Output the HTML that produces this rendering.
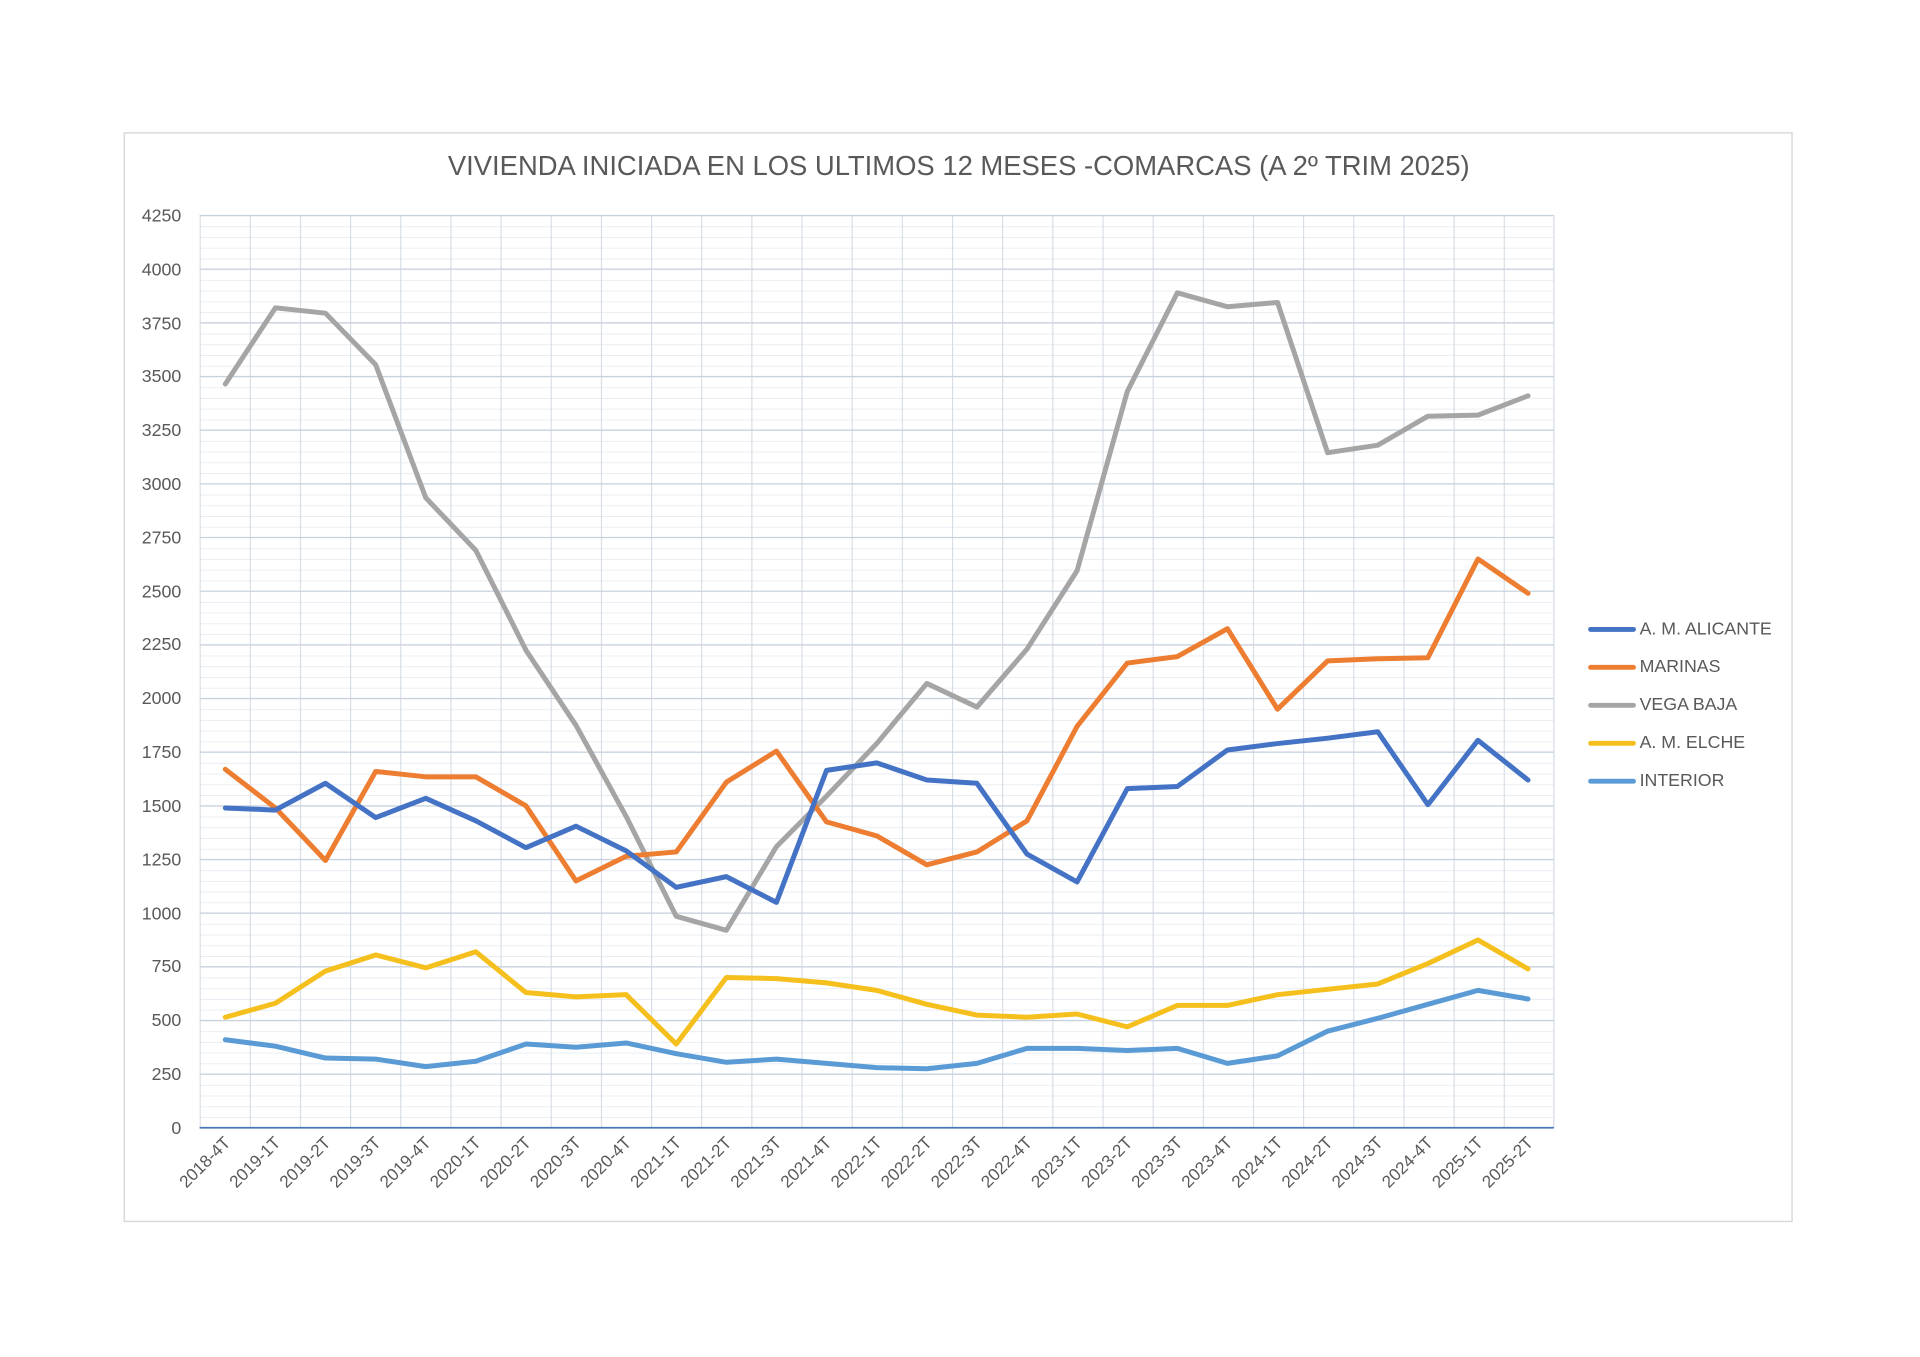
<!DOCTYPE html>
<html><head><meta charset="utf-8"><style>html,body{margin:0;padding:0;background:#fff}svg{display:block}</style></head>
<body>
<svg width="1920" height="1357" viewBox="0 0 1568 1108.2" xmlns="http://www.w3.org/2000/svg" font-family="'Liberation Sans', sans-serif">
<defs>
<pattern id="g" x="163" y="176" width="40.963" height="8.7647" patternUnits="userSpaceOnUse">
<line x1="0" y1="0.3" x2="40.963" y2="0.3" stroke="#e6ebf2" stroke-width="0.8"/>
<line x1="0.4" y1="0" x2="0.4" y2="8.7647" stroke="#d5dbe3" stroke-width="1"/>
</pattern>
</defs>
<rect x="0" y="0" width="1568" height="1108.2" fill="#fff"/>
<rect x="101.5" y="108.5" width="1362" height="889" fill="#fff" stroke="#d9d9d9" stroke-width="1.2"/>
<text x="783" y="143" text-anchor="middle" font-size="22.4" fill="#595959">VIVIENDA INICIADA EN LOS ULTIMOS 12 MESES -COMARCAS (A 2º TRIM 2025)</text>
<rect x="163" y="176" width="1106" height="745" fill="url(#g)"/>
<line x1="1269" y1="176" x2="1269" y2="921" stroke="#d5dbe3"/>
<g stroke="#c8d2de" stroke-width="1">
<line x1="163" x2="1269" y1="176" y2="176"/><line x1="163" x2="1269" y1="219.8" y2="219.8"/><line x1="163" x2="1269" y1="263.6" y2="263.6"/><line x1="163" x2="1269" y1="307.5" y2="307.5"/><line x1="163" x2="1269" y1="351.3" y2="351.3"/><line x1="163" x2="1269" y1="395.1" y2="395.1"/><line x1="163" x2="1269" y1="438.9" y2="438.9"/><line x1="163" x2="1269" y1="482.8" y2="482.8"/><line x1="163" x2="1269" y1="526.6" y2="526.6"/><line x1="163" x2="1269" y1="570.4" y2="570.4"/><line x1="163" x2="1269" y1="614.2" y2="614.2"/><line x1="163" x2="1269" y1="658.1" y2="658.1"/><line x1="163" x2="1269" y1="701.9" y2="701.9"/><line x1="163" x2="1269" y1="745.7" y2="745.7"/><line x1="163" x2="1269" y1="789.5" y2="789.5"/><line x1="163" x2="1269" y1="833.4" y2="833.4"/><line x1="163" x2="1269" y1="877.2" y2="877.2"/>
</g>
<line x1="163" x2="1269" y1="921" y2="921" stroke="#4a76b8" stroke-width="1.5"/>
<g font-size="14.5" fill="#595959" text-anchor="end">
<text x="148" y="181">4250</text><text x="148" y="225">4000</text><text x="148" y="269">3750</text><text x="148" y="312">3500</text><text x="148" y="356">3250</text><text x="148" y="400">3000</text><text x="148" y="444">2750</text><text x="148" y="488">2500</text><text x="148" y="531">2250</text><text x="148" y="575">2000</text><text x="148" y="619">1750</text><text x="148" y="663">1500</text><text x="148" y="707">1250</text><text x="148" y="751">1000</text><text x="148" y="794">750</text><text x="148" y="838">500</text><text x="148" y="882">250</text><text x="148" y="926">0</text>
</g>
<g font-size="14" fill="#595959" text-anchor="end">
<text transform="translate(189,934) rotate(-45)">2018-4T</text>
<text transform="translate(229.9,934) rotate(-45)">2019-1T</text>
<text transform="translate(270.8,934) rotate(-45)">2019-2T</text>
<text transform="translate(311.8,934) rotate(-45)">2019-3T</text>
<text transform="translate(352.7,934) rotate(-45)">2019-4T</text>
<text transform="translate(393.6,934) rotate(-45)">2020-1T</text>
<text transform="translate(434.5,934) rotate(-45)">2020-2T</text>
<text transform="translate(475.4,934) rotate(-45)">2020-3T</text>
<text transform="translate(516.4,934) rotate(-45)">2020-4T</text>
<text transform="translate(557.3,934) rotate(-45)">2021-1T</text>
<text transform="translate(598.2,934) rotate(-45)">2021-2T</text>
<text transform="translate(639.1,934) rotate(-45)">2021-3T</text>
<text transform="translate(680,934) rotate(-45)">2021-4T</text>
<text transform="translate(721,934) rotate(-45)">2022-1T</text>
<text transform="translate(761.9,934) rotate(-45)">2022-2T</text>
<text transform="translate(802.8,934) rotate(-45)">2022-3T</text>
<text transform="translate(843.7,934) rotate(-45)">2022-4T</text>
<text transform="translate(884.6,934) rotate(-45)">2023-1T</text>
<text transform="translate(925.6,934) rotate(-45)">2023-2T</text>
<text transform="translate(966.5,934) rotate(-45)">2023-3T</text>
<text transform="translate(1007.4,934) rotate(-45)">2023-4T</text>
<text transform="translate(1048.3,934) rotate(-45)">2024-1T</text>
<text transform="translate(1089.2,934) rotate(-45)">2024-2T</text>
<text transform="translate(1130.2,934) rotate(-45)">2024-3T</text>
<text transform="translate(1171.1,934) rotate(-45)">2024-4T</text>
<text transform="translate(1212,934) rotate(-45)">2025-1T</text>
<text transform="translate(1252.9,934) rotate(-45)">2025-2T</text>
</g>
<g transform="translate(0,921) scale(1,-0.175294)" fill="none" stroke-width="5" stroke-linejoin="round" stroke-linecap="round">
<polyline vector-effect="non-scaling-stroke" stroke="#a5a5a5" points="184,3465 224.9,3820 265.8,3795 306.8,3555 347.7,2935 388.6,2690 429.5,2225 470.4,1875 511.4,1450 552.3,985 593.2,920 634.1,1310 675,1545 716,1790 756.9,2070 797.8,1960 838.7,2230 879.6,2595 920.6,3430 961.5,3890 1002.4,3825 1043.3,3845 1084.2,3145 1125.2,3180 1166.1,3315 1207,3320 1247.9,3410"/>
<polyline vector-effect="non-scaling-stroke" stroke="#ed7d31" points="184,1670 224.9,1490 265.8,1245 306.8,1660 347.7,1635 388.6,1635 429.5,1500 470.4,1150 511.4,1265 552.3,1285 593.2,1610 634.1,1755 675,1425 716,1360 756.9,1225 797.8,1285 838.7,1430 879.6,1870 920.6,2165 961.5,2195 1002.4,2325 1043.3,1950 1084.2,2175 1125.2,2185 1166.1,2190 1207,2650 1247.9,2490"/>
<polyline vector-effect="non-scaling-stroke" stroke="#4472c4" points="184,1490 224.9,1480 265.8,1605 306.8,1445 347.7,1535 388.6,1430 429.5,1305 470.4,1405 511.4,1290 552.3,1120 593.2,1170 634.1,1050 675,1665 716,1700 756.9,1620 797.8,1605 838.7,1275 879.6,1145 920.6,1580 961.5,1590 1002.4,1760 1043.3,1790 1084.2,1815 1125.2,1845 1166.1,1505 1207,1805 1247.9,1620"/>
<polyline vector-effect="non-scaling-stroke" stroke="#f5c01d" points="184,515 224.9,580 265.8,730 306.8,805 347.7,745 388.6,820 429.5,630 470.4,610 511.4,620 552.3,390 593.2,700 634.1,695 675,675 716,640 756.9,575 797.8,525 838.7,515 879.6,530 920.6,470 961.5,570 1002.4,570 1043.3,620 1084.2,645 1125.2,670 1166.1,765 1207,875 1247.9,740"/>
<polyline vector-effect="non-scaling-stroke" stroke="#5b9bd5" points="184,410 224.9,380 265.8,325 306.8,320 347.7,285 388.6,310 429.5,390 470.4,375 511.4,395 552.3,345 593.2,305 634.1,320 675,300 716,280 756.9,275 797.8,300 838.7,370 879.6,370 920.6,360 961.5,370 1002.4,300 1043.3,335 1084.2,450 1125.2,510 1166.1,575 1207,640 1247.9,600"/>
</g>
<g stroke-width="4" stroke-linecap="round">
<line x1="1299" x2="1334" y1="514" y2="514" stroke="#4472c4"/>
<line x1="1299" x2="1334" y1="545" y2="545" stroke="#ed7d31"/>
<line x1="1299" x2="1334" y1="576" y2="576" stroke="#a5a5a5"/>
<line x1="1299" x2="1334" y1="607" y2="607" stroke="#f5c01d"/>
<line x1="1299" x2="1334" y1="638" y2="638" stroke="#5b9bd5"/>
</g>
<g font-size="14.5" fill="#595959">
<text x="1339" y="518">A. M. ALICANTE</text>
<text x="1339" y="549">MARINAS</text>
<text x="1339" y="580">VEGA BAJA</text>
<text x="1339" y="611">A. M. ELCHE</text>
<text x="1339" y="642">INTERIOR</text>
</g>
</svg>
</body></html>
